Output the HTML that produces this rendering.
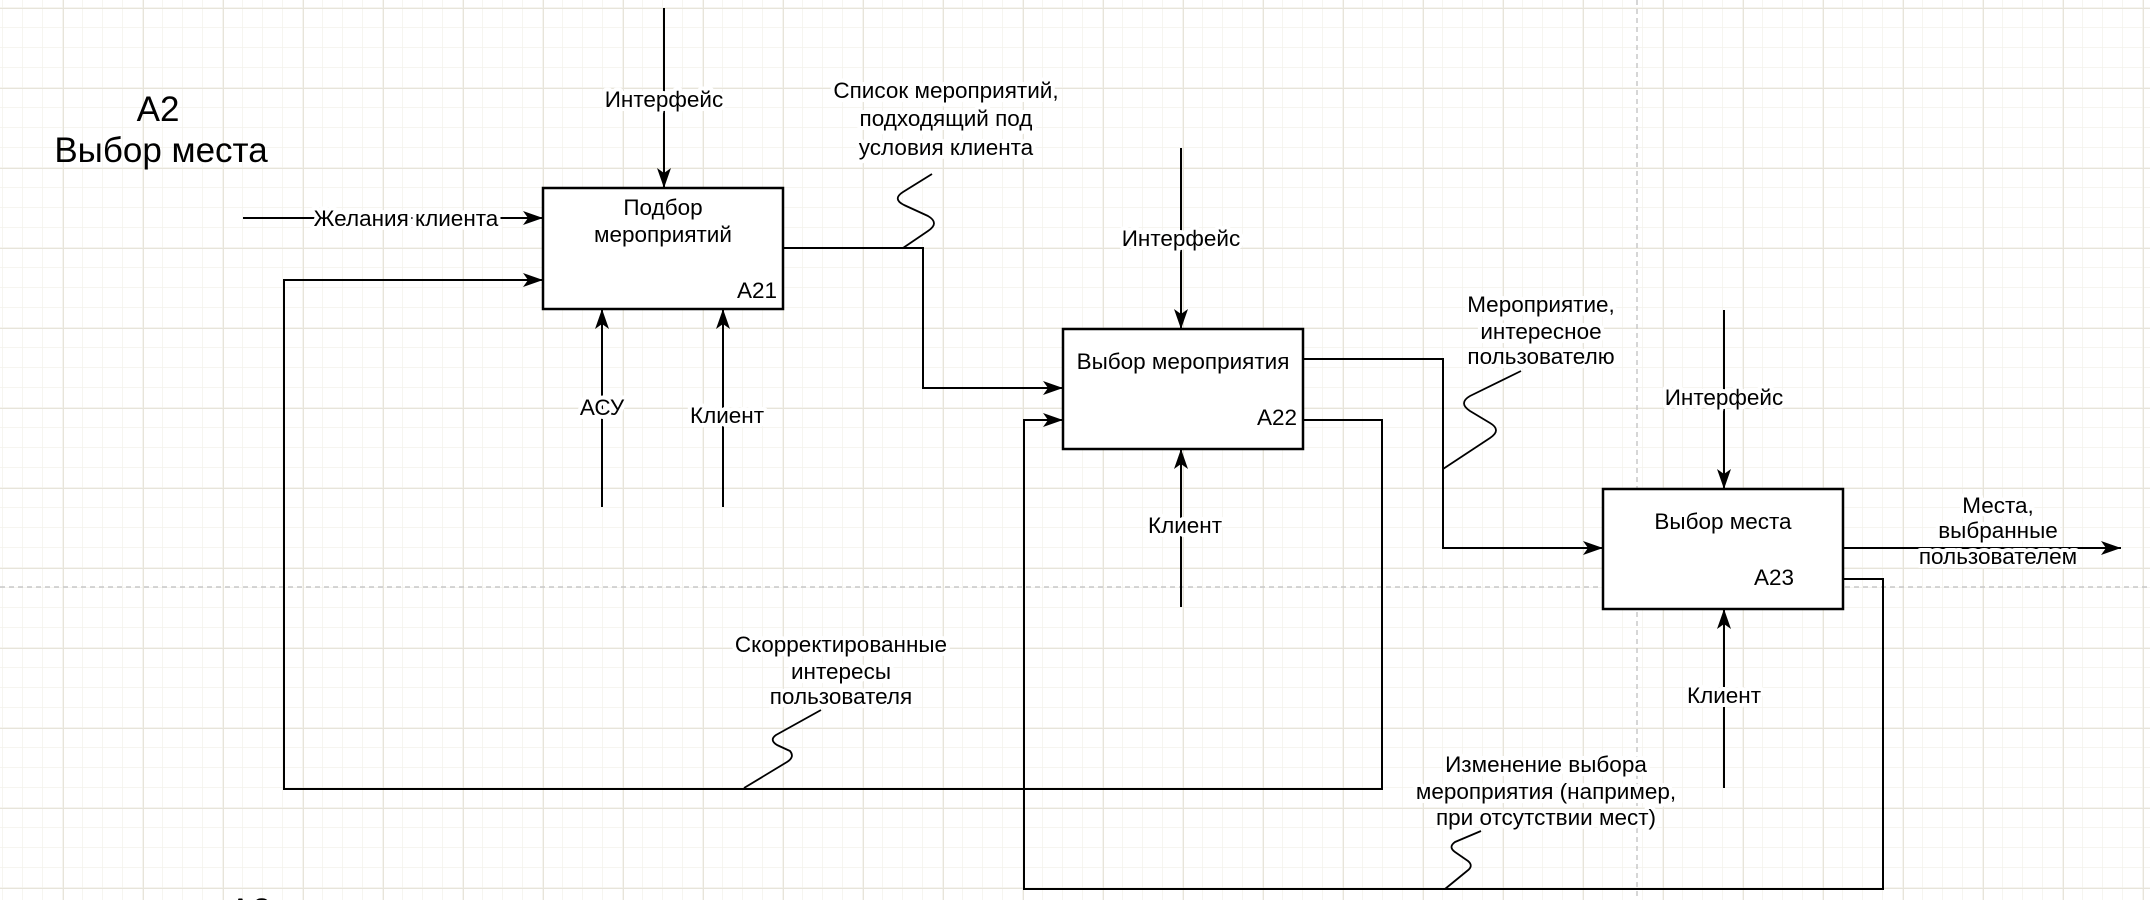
<!DOCTYPE html>
<html><head><meta charset="utf-8"><style>
html,body{margin:0;padding:0;background:#fff}
svg{display:block}
text{font-family:"Liberation Sans",Arial,sans-serif;font-size:22.5px;fill:#000}
.l{paint-order:stroke;stroke:#fff;stroke-width:8px;stroke-linejoin:round}
</style></head><body>
<svg width="2150" height="900" viewBox="0 0 2150 900" xmlns="http://www.w3.org/2000/svg">
<defs>
<pattern id="minor" x="3" y="8" width="20" height="20" patternUnits="userSpaceOnUse">
<path d="M20 0V20M0 20H20" stroke="#f3f2ec" stroke-width="1.5" fill="none"/>
</pattern>
<pattern id="major" x="63" y="8" width="80" height="80" patternUnits="userSpaceOnUse">
<path d="M0 0V80M0 0H80" stroke="#e7e4da" stroke-width="2" fill="none"/>
</pattern>
<marker id="a" viewBox="0 0 20 14" refX="20" refY="7" markerWidth="20" markerHeight="14" markerUnits="userSpaceOnUse" orient="auto">
<path d="M0 0L20 7L0 14L5 7Z" fill="#000"/>
</marker>
</defs>
<rect width="2150" height="900" fill="#fff"/>
<rect width="2150" height="900" fill="url(#minor)"/>
<rect width="2150" height="900" fill="url(#major)"/>
<line x1="0" y1="587" x2="2150" y2="587" stroke="#c8c8c8" stroke-width="1.5" stroke-dasharray="5 4"/>
<line x1="1637" y1="0" x2="1637" y2="900" stroke="#c8c8c8" stroke-width="1.5" stroke-dasharray="5 4"/>

<g fill="none" stroke="#000" stroke-width="2">
<line x1="664" y1="8" x2="664" y2="188" marker-end="url(#a)"/>
<line x1="243" y1="218" x2="543" y2="218" marker-end="url(#a)"/>
<polyline points="1303,420 1382,420 1382,789 284,789 284,280 543,280" marker-end="url(#a)"/>
<line x1="602" y1="507" x2="602" y2="309" marker-end="url(#a)"/>
<line x1="723" y1="507" x2="723" y2="309" marker-end="url(#a)"/>
<polyline points="783,248 923,248 923,388 1063,388" marker-end="url(#a)"/>
<line x1="1181" y1="148" x2="1181" y2="329" marker-end="url(#a)"/>
<line x1="1181" y1="607" x2="1181" y2="449" marker-end="url(#a)"/>
<polyline points="1843,579 1883,579 1883,889 1024,889 1024,420 1063,420" marker-end="url(#a)"/>
<polyline points="1303,359 1443,359 1443,548 1603,548" marker-end="url(#a)"/>
<line x1="1724" y1="310" x2="1724" y2="489" marker-end="url(#a)"/>
<line x1="1724" y1="788" x2="1724" y2="609" marker-end="url(#a)"/>
<line x1="1843" y1="548" x2="2121" y2="548" marker-end="url(#a)"/>
<g stroke-width="1.8" stroke-linejoin="round">
<path d="M903,248 L928,231 Q940,223 928,216 L904,205 Q892,199 903,192 L932,174"/>
<path d="M1443,469 L1490,438 Q1502,430 1490,423 L1470,411 Q1458,403 1470,396 L1521,371"/>
<path d="M744,788 L787,762 Q795,757 790,751 L777,745 Q769,740 776,735 L821,710"/>
<path d="M1445,889 L1467,871 Q1474,866 1468,861 L1455,852 Q1448,847 1455,842 L1481,831"/>
</g>
</g>

<g fill="#fff" stroke="#000" stroke-width="2.5">
<rect x="543" y="188" width="240" height="121"/>
<rect x="1063" y="329" width="240" height="120"/>
<rect x="1603" y="489" width="240" height="120"/>
</g>

<g text-anchor="middle">
<text x="158" y="121" style="font-size:35px">A2</text>
<text x="161" y="162" style="font-size:35px">Выбор места</text>
<text x="250" y="923" style="font-size:35px">A3</text>

<text x="663" y="215">Подбор</text>
<text x="663" y="242">мероприятий</text>
<text x="1183" y="369">Выбор мероприятия</text>
<text x="1723" y="529">Выбор места</text>

<text class="l" x="664" y="107">Интерфейс</text>
<text class="l" x="406" y="226">Желания клиента</text>
<text class="l" x="602" y="415">АСУ</text>
<text class="l" x="727" y="423">Клиент</text>
<text class="l" x="946" y="98">Список мероприятий,</text>
<text class="l" x="946" y="126">подходящий под</text>
<text class="l" x="946" y="155">условия клиента</text>
<text class="l" x="1181" y="246">Интерфейс</text>
<text class="l" x="1185" y="533">Клиент</text>
<text class="l" x="1541" y="312">Мероприятие,</text>
<text class="l" x="1541" y="339">интересное</text>
<text class="l" x="1541" y="364">пользователю</text>
<text class="l" x="1724" y="405">Интерфейс</text>
<text class="l" x="1724" y="703">Клиент</text>
<text class="l" x="1998" y="513">Места,</text>
<text class="l" x="1998" y="538">выбранные</text>
<text class="l" x="1998" y="564">пользователем</text>
<text class="l" x="841" y="652">Скорректированные</text>
<text class="l" x="841" y="679">интересы</text>
<text class="l" x="841" y="704">пользователя</text>
<text class="l" x="1546" y="772">Изменение выбора</text>
<text class="l" x="1546" y="799">мероприятия (например,</text>
<text class="l" x="1546" y="825">при отсутствии мест)</text>
</g>
<g text-anchor="end">
<text x="777" y="298">A21</text>
<text x="1297" y="425">A22</text>
<text x="1794" y="585">A23</text>
</g>
</svg>
</body></html>
